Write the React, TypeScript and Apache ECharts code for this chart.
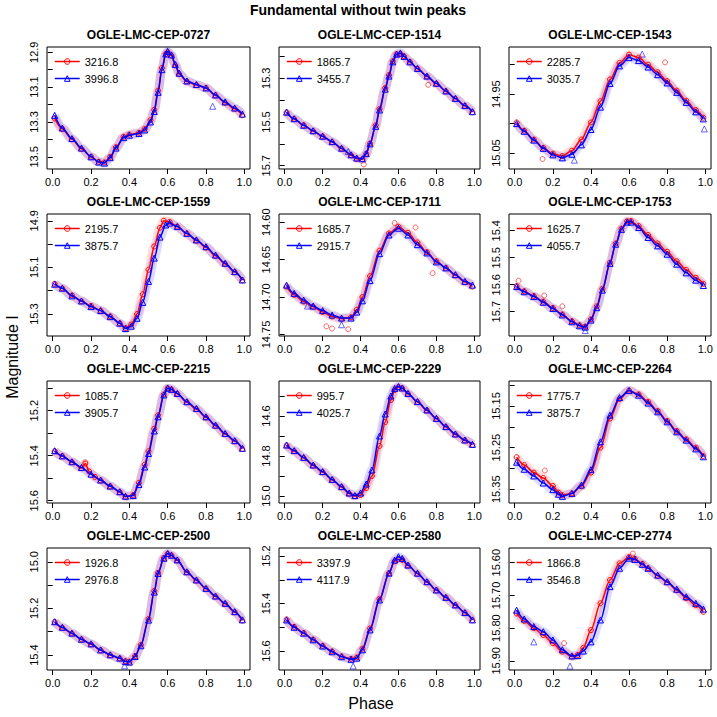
import React, { useEffect, useRef } from 'react';
import * as echarts from 'echarts';

const FONT = '"Liberation Sans", Arial, Helvetica, sans-serif';

const mainTitle = 'Fundamental without twin peaks';
const xTitle = 'Phase';
const yTitle = 'Magnitude I';

const panelTitles = [
  'OGLE-LMC-CEP-0727', 'OGLE-LMC-CEP-1514', 'OGLE-LMC-CEP-1543',
  'OGLE-LMC-CEP-1559', 'OGLE-LMC-CEP-1711', 'OGLE-LMC-CEP-1753',
  'OGLE-LMC-CEP-2215', 'OGLE-LMC-CEP-2229', 'OGLE-LMC-CEP-2264',
  'OGLE-LMC-CEP-2500', 'OGLE-LMC-CEP-2580', 'OGLE-LMC-CEP-2774',
];
const redNames = ['3216.8', '1865.7', '2285.7', '2195.7', '1685.7', '1625.7', '1085.7', '995.7', '1775.7', '1926.8', '3397.9', '1866.8'];
const blueNames = ['3996.8', '3455.7', '3035.7', '3875.7', '2915.7', '4055.7', '3905.7', '4025.7', '3875.7', '2976.8', '4117.9', '3546.8'];

const xTicks = [0, 0.2, 0.4, 0.6, 0.8, 1.0];

const yRanges = [
  [12.87, 13.57], [15.157, 15.715], [14.87, 15.077],
  [14.871, 15.394], [14.589, 14.752], [15.338, 15.79],
  [15.068, 15.61], [14.425, 15.035], [15.09, 15.383],
  [14.941, 15.464], [15.166, 15.68], [15.555, 15.928],
];
const yTicks = [
  [12.9, 13.0, 13.1, 13.2, 13.3, 13.4, 13.5],
  [15.2, 15.3, 15.4, 15.5, 15.6, 15.7],
  [14.9, 14.95, 15.0, 15.05],
  [14.9, 15.0, 15.1, 15.2, 15.3],
  [14.6, 14.65, 14.7, 14.75],
  [15.4, 15.5, 15.6, 15.7],
  [15.1, 15.2, 15.3, 15.4, 15.5, 15.6],
  [14.5, 14.6, 14.7, 14.8, 14.9, 15.0],
  [15.1, 15.15, 15.2, 15.25, 15.3, 15.35],
  [15.0, 15.1, 15.2, 15.3, 15.4],
  [15.2, 15.3, 15.4, 15.5, 15.6],
  [15.6, 15.7, 15.8, 15.9],
];
const yLabels = [
  [12.9, 13.1, 13.3, 13.5],
  [15.3, 15.5, 15.7],
  [14.95, 15.05],
  [14.9, 15.1, 15.3],
  [14.6, 14.65, 14.7, 14.75],
  [15.4, 15.5, 15.6, 15.7],
  [15.2, 15.4, 15.6],
  [14.6, 14.8, 15.0],
  [15.15, 15.25, 15.35],
  [15.0, 15.2, 15.4],
  [15.2, 15.4, 15.6],
  [15.6, 15.7, 15.8, 15.9],
];
const yDecimals = [1, 1, 2, 1, 2, 1, 1, 1, 2, 1, 1, 2];

// ---- light curves: [phase, magnitude] ----
const red0727 = [[0.01,13.28],[0.05,13.34],[0.1,13.4],[0.15,13.455],[0.2,13.5],[0.24,13.528],[0.27,13.532],[0.3,13.5],[0.33,13.445],[0.37,13.385],[0.4,13.372],[0.45,13.362],[0.48,13.34],[0.51,13.29],[0.53,13.23],[0.55,13.12],[0.57,12.99],[0.59,12.91],[0.6,12.9],[0.62,12.92],[0.64,12.975],[0.66,13.025],[0.7,13.068],[0.75,13.088],[0.8,13.105],[0.85,13.148],[0.9,13.19],[0.95,13.225],[0.99,13.262]];
const blue0727 = [[0.01,13.262],[0.05,13.335],[0.1,13.395],[0.15,13.45],[0.2,13.5],[0.24,13.53],[0.27,13.536],[0.3,13.505],[0.33,13.45],[0.37,13.39],[0.4,13.376],[0.45,13.366],[0.48,13.346],[0.51,13.3],[0.53,13.24],[0.55,13.13],[0.57,13.0],[0.59,12.91],[0.6,12.895],[0.62,12.915],[0.64,12.97],[0.66,13.02],[0.7,13.065],[0.75,13.085],[0.8,13.105],[0.85,13.145],[0.9,13.185],[0.95,13.22],[0.99,13.255]];

const red1514 = [[0.01,15.456],[0.05,15.486],[0.1,15.515],[0.15,15.542],[0.2,15.566],[0.25,15.592],[0.3,15.622],[0.35,15.652],[0.38,15.668],[0.41,15.67],[0.43,15.645],[0.45,15.598],[0.48,15.515],[0.5,15.44],[0.53,15.345],[0.55,15.285],[0.57,15.222],[0.59,15.19],[0.61,15.188],[0.63,15.2],[0.66,15.225],[0.7,15.256],[0.75,15.292],[0.8,15.325],[0.85,15.36],[0.9,15.394],[0.95,15.426],[0.99,15.455]];
const blue1514 = [[0.01,15.455],[0.05,15.485],[0.1,15.515],[0.15,15.54],[0.2,15.565],[0.25,15.59],[0.3,15.62],[0.35,15.65],[0.38,15.665],[0.41,15.668],[0.43,15.645],[0.45,15.6],[0.48,15.52],[0.5,15.445],[0.53,15.35],[0.55,15.29],[0.57,15.225],[0.59,15.19],[0.61,15.185],[0.63,15.2],[0.66,15.225],[0.7,15.255],[0.75,15.29],[0.8,15.323],[0.85,15.358],[0.9,15.392],[0.95,15.425],[0.99,15.453]];

const red1543 = [[0.01,14.998],[0.05,15.012],[0.1,15.027],[0.15,15.041],[0.2,15.051],[0.25,15.055],[0.3,15.046],[0.35,15.027],[0.4,14.998],[0.45,14.962],[0.5,14.925],[0.55,14.897],[0.6,14.883],[0.65,14.888],[0.7,14.9],[0.75,14.913],[0.8,14.928],[0.85,14.944],[0.9,14.961],[0.95,14.977],[0.99,14.99]];
const blue1543 = [[0.01,15.0],[0.05,15.013],[0.1,15.028],[0.15,15.042],[0.2,15.053],[0.25,15.058],[0.3,15.052],[0.35,15.036],[0.4,15.01],[0.45,14.972],[0.5,14.932],[0.55,14.902],[0.6,14.888],[0.65,14.893],[0.7,14.904],[0.75,14.917],[0.8,14.931],[0.85,14.947],[0.9,14.964],[0.95,14.98],[0.99,14.992]];

const red1559 = [[0.01,15.17],[0.05,15.19],[0.1,15.22],[0.15,15.245],[0.2,15.265],[0.25,15.285],[0.3,15.31],[0.35,15.34],[0.38,15.36],[0.41,15.345],[0.44,15.3],[0.47,15.215],[0.5,15.11],[0.53,15.01],[0.56,14.93],[0.58,14.9],[0.61,14.905],[0.65,14.925],[0.7,14.955],[0.75,14.985],[0.8,15.015],[0.85,15.05],[0.9,15.085],[0.95,15.12],[0.99,15.155]];
const blue1559 = [[0.01,15.172],[0.05,15.189],[0.1,15.222],[0.15,15.244],[0.2,15.268],[0.25,15.285],[0.3,15.311],[0.35,15.339],[0.38,15.362],[0.41,15.352],[0.44,15.318],[0.47,15.25],[0.5,15.16],[0.53,15.06],[0.56,14.97],[0.59,14.918],[0.61,14.91],[0.65,14.925],[0.7,14.954],[0.75,14.982],[0.8,15.011],[0.85,15.047],[0.9,15.082],[0.95,15.118],[0.99,15.154]];

const red1711 = [[0.01,14.686],[0.05,14.697],[0.1,14.706],[0.15,14.713],[0.2,14.72],[0.25,14.726],[0.3,14.729],[0.35,14.727],[0.38,14.717],[0.41,14.7],[0.45,14.672],[0.5,14.638],[0.55,14.615],[0.6,14.606],[0.65,14.614],[0.7,14.627],[0.75,14.64],[0.8,14.652],[0.85,14.661],[0.9,14.671],[0.95,14.68],[0.99,14.686]];
const blue1711 = [[0.01,14.684],[0.05,14.695],[0.1,14.704],[0.15,14.712],[0.2,14.718],[0.25,14.724],[0.3,14.728],[0.35,14.728],[0.38,14.72],[0.41,14.705],[0.45,14.678],[0.5,14.642],[0.55,14.617],[0.6,14.608],[0.65,14.617],[0.7,14.63],[0.75,14.641],[0.8,14.653],[0.85,14.661],[0.9,14.67],[0.95,14.679],[0.99,14.684]];

const red1753 = [[0.01,15.605],[0.05,15.624],[0.1,15.642],[0.15,15.663],[0.2,15.686],[0.25,15.71],[0.3,15.735],[0.34,15.75],[0.37,15.755],[0.4,15.728],[0.43,15.68],[0.46,15.615],[0.5,15.518],[0.53,15.447],[0.56,15.392],[0.59,15.365],[0.61,15.364],[0.65,15.382],[0.7,15.416],[0.75,15.447],[0.8,15.478],[0.85,15.513],[0.9,15.545],[0.95,15.574],[0.99,15.597]];
const blue1753 = [[0.01,15.607],[0.05,15.626],[0.1,15.644],[0.15,15.665],[0.2,15.688],[0.25,15.712],[0.3,15.737],[0.34,15.752],[0.37,15.757],[0.4,15.731],[0.43,15.685],[0.46,15.62],[0.5,15.521],[0.53,15.45],[0.56,15.395],[0.59,15.368],[0.61,15.368],[0.65,15.388],[0.7,15.425],[0.75,15.456],[0.8,15.487],[0.85,15.524],[0.9,15.556],[0.95,15.583],[0.99,15.603]];

const red2215 = [[0.01,15.38],[0.05,15.402],[0.1,15.428],[0.15,15.455],[0.17,15.435],[0.19,15.47],[0.22,15.494],[0.25,15.51],[0.3,15.536],[0.35,15.562],[0.38,15.582],[0.42,15.575],[0.45,15.52],[0.48,15.44],[0.5,15.38],[0.53,15.28],[0.55,15.22],[0.58,15.128],[0.6,15.1],[0.62,15.106],[0.65,15.125],[0.7,15.162],[0.75,15.193],[0.8,15.23],[0.85,15.267],[0.9,15.304],[0.95,15.336],[0.99,15.37]];
const blue2215 = [[0.01,15.378],[0.05,15.401],[0.1,15.427],[0.15,15.452],[0.2,15.482],[0.25,15.508],[0.3,15.535],[0.35,15.56],[0.38,15.58],[0.42,15.577],[0.45,15.528],[0.48,15.45],[0.5,15.39],[0.53,15.29],[0.55,15.227],[0.58,15.13],[0.6,15.1],[0.62,15.105],[0.65,15.123],[0.7,15.16],[0.75,15.19],[0.8,15.227],[0.85,15.264],[0.9,15.301],[0.95,15.333],[0.99,15.367]];

const red2229 = [[0.01,14.747],[0.05,14.776],[0.1,14.81],[0.15,14.848],[0.2,14.881],[0.25,14.92],[0.3,14.956],[0.34,14.988],[0.37,15.0],[0.4,14.995],[0.43,14.96],[0.46,14.9],[0.5,14.75],[0.53,14.63],[0.56,14.52],[0.58,14.47],[0.6,14.455],[0.62,14.462],[0.65,14.489],[0.7,14.53],[0.75,14.572],[0.8,14.614],[0.85,14.655],[0.9,14.692],[0.95,14.722],[0.99,14.744]];
const blue2229 = [[0.01,14.745],[0.05,14.773],[0.1,14.807],[0.15,14.845],[0.2,14.878],[0.25,14.917],[0.3,14.953],[0.34,14.985],[0.37,14.998],[0.4,14.985],[0.43,14.94],[0.46,14.87],[0.5,14.7],[0.53,14.59],[0.56,14.5],[0.58,14.462],[0.6,14.453],[0.62,14.46],[0.65,14.487],[0.7,14.528],[0.75,14.57],[0.8,14.612],[0.85,14.653],[0.9,14.69],[0.95,14.72],[0.99,14.742]];

const red2264 = [[0.01,15.273],[0.05,15.292],[0.1,15.31],[0.15,15.323],[0.2,15.342],[0.23,15.358],[0.25,15.364],[0.3,15.36],[0.35,15.343],[0.4,15.31],[0.45,15.25],[0.5,15.18],[0.55,15.133],[0.6,15.113],[0.65,15.122],[0.7,15.14],[0.75,15.162],[0.8,15.186],[0.85,15.21],[0.9,15.23],[0.95,15.25],[0.99,15.27]];
const blue2264 = [[0.01,15.285],[0.05,15.302],[0.1,15.318],[0.15,15.335],[0.2,15.351],[0.23,15.362],[0.25,15.367],[0.3,15.36],[0.35,15.34],[0.4,15.303],[0.45,15.236],[0.5,15.172],[0.55,15.13],[0.6,15.113],[0.65,15.124],[0.7,15.143],[0.75,15.164],[0.8,15.188],[0.85,15.212],[0.9,15.232],[0.95,15.253],[0.99,15.272]];

const red2500 = [[0.01,15.258],[0.05,15.283],[0.1,15.308],[0.15,15.333],[0.2,15.354],[0.25,15.379],[0.3,15.4],[0.35,15.415],[0.38,15.426],[0.4,15.428],[0.43,15.404],[0.46,15.356],[0.5,15.245],[0.53,15.125],[0.55,15.047],[0.58,14.984],[0.6,14.966],[0.62,14.973],[0.65,14.994],[0.7,15.045],[0.75,15.08],[0.8,15.116],[0.85,15.149],[0.9,15.18],[0.95,15.216],[0.99,15.252]];
const blue2500 = [[0.01,15.257],[0.05,15.281],[0.1,15.306],[0.15,15.332],[0.2,15.352],[0.25,15.378],[0.3,15.399],[0.35,15.413],[0.38,15.428],[0.4,15.43],[0.43,15.406],[0.46,15.36],[0.5,15.25],[0.53,15.13],[0.55,15.05],[0.58,14.985],[0.6,14.965],[0.62,14.972],[0.65,14.992],[0.7,15.043],[0.75,15.078],[0.8,15.114],[0.85,15.147],[0.9,15.178],[0.95,15.214],[0.99,15.249]];

const red2580 = [[0.01,15.467],[0.05,15.498],[0.1,15.524],[0.15,15.552],[0.2,15.578],[0.25,15.602],[0.3,15.623],[0.35,15.633],[0.38,15.627],[0.41,15.59],[0.45,15.505],[0.5,15.38],[0.55,15.272],[0.58,15.222],[0.6,15.213],[0.62,15.216],[0.65,15.24],[0.7,15.274],[0.75,15.31],[0.8,15.344],[0.85,15.375],[0.9,15.407],[0.95,15.439],[0.99,15.47]];
const blue2580 = [[0.01,15.469],[0.05,15.5],[0.1,15.525],[0.15,15.553],[0.2,15.579],[0.25,15.603],[0.3,15.624],[0.35,15.635],[0.38,15.63],[0.41,15.595],[0.45,15.511],[0.5,15.385],[0.55,15.272],[0.58,15.217],[0.6,15.203],[0.62,15.21],[0.65,15.238],[0.7,15.272],[0.75,15.308],[0.8,15.343],[0.85,15.374],[0.9,15.406],[0.95,15.438],[0.99,15.469]];

const red2774 = [[0.01,15.755],[0.05,15.778],[0.1,15.8],[0.15,15.821],[0.2,15.846],[0.25,15.872],[0.3,15.887],[0.33,15.882],[0.36,15.86],[0.4,15.806],[0.45,15.724],[0.5,15.653],[0.55,15.602],[0.6,15.583],[0.63,15.588],[0.67,15.603],[0.7,15.617],[0.75,15.64],[0.8,15.66],[0.85,15.684],[0.9,15.708],[0.95,15.73],[0.99,15.75]];
const blue2774 = [[0.01,15.745],[0.05,15.772],[0.1,15.795],[0.15,15.811],[0.2,15.836],[0.25,15.866],[0.3,15.885],[0.33,15.884],[0.36,15.87],[0.4,15.842],[0.45,15.775],[0.5,15.673],[0.55,15.617],[0.6,15.586],[0.63,15.59],[0.67,15.605],[0.7,15.617],[0.75,15.638],[0.8,15.658],[0.85,15.681],[0.9,15.704],[0.95,15.724],[0.99,15.742]];

const redCurves = [red0727, red1514, red1543, red1559, red1711, red1753, red2215, red2229, red2264, red2500, red2580, red2774];
const blueCurves = [blue0727, blue1514, blue1543, blue1559, blue1711, blue1753, blue2215, blue2229, blue2264, blue2500, blue2580, blue2774];

// ---- individual stray observations (off the mean curve) ----
const redStray = [
  [],
  [[0.417, 15.694], [0.757, 15.33]],
  [[0.789, 14.896], [0.146, 15.06]],
  [],
  [[0.22, 14.739], [0.25, 14.742], [0.335, 14.743], [0.58, 14.601], [0.69, 14.607], [0.78, 14.668]],
  [[0.02, 15.585], [0.155, 15.64], [0.25, 15.68]],
  [[0.17, 15.43]],
  [],
  [[0.158, 15.305]],
  [],
  [],
  [[0.259, 15.846], [0.62, 15.572]],
];
const blueStray = [
  [[0.835, 13.21]],
  [[0.335, 15.635]],
  [[0.669, 14.882], [0.995, 15.009], [0.313, 15.062]],
  [],
  [[0.12, 14.712], [0.3, 14.737]],
  [[0.37, 15.77]],
  [],
  [],
  [],
  [[0.375, 15.446]],
  [[0.361, 15.663]],
  [[0.29, 15.916], [0.1, 15.842]],
];

// ---- layout ----
const COL_LEFT = [47, 279, 509];
const COL_WIDTH = [203, 201, 202];
const ROW_TOP = [47, 214, 381, 548];
const BOX_H = 122;

const RED = '#ff0000';
const BLUE = '#0000ff';
const CLEAR = 'rgba(255,255,255,0)';

function centeredText(text: string, x: number, y: number, size: number, bold: boolean, rotation = 0) {
  return {
    type: 'text', x, y, rotation,
    style: {
      text, fontSize: size, fontWeight: bold ? 'bold' : 'normal', fontFamily: FONT, fill: '#000',
      align: 'center', verticalAlign: 'middle', textAlign: 'center', textVerticalAlign: 'middle',
    },
  };
}

function buildOption() {
  const grid: any[] = [];
  const xAxis: any[] = [];
  const yAxis: any[] = [];
  const series: any[] = [];
  const legend: any[] = [];
  const graphic: any[] = [];

  graphic.push(centeredText(mainTitle, 358, 10, 14, true));
  graphic.push(centeredText(xTitle, 371, 703, 16, false));
  graphic.push(centeredText(yTitle, 12, 357, 16, false, Math.PI / 2));

  for (let i = 0; i < 12; i++) {
    const c = i % 3;
    const r = Math.floor(i / 3);
    const left = COL_LEFT[c];
    const top = ROW_TOP[r];
    const w = COL_WIDTH[c];
    grid.push({ left, top, width: w, height: BOX_H, show: true, borderColor: '#000', borderWidth: 1, backgroundColor: 'transparent', containLabel: false });

    graphic.push(centeredText(panelTitles[i], left + w / 2, top - 12, 12, true));

    xAxis.push({
      type: 'value', gridIndex: i, min: -0.03, max: 1.03,
      axisLine: { show: false },
      axisTick: { show: true, inside: false, length: 5, lineStyle: { color: '#000', width: 1 }, customValues: xTicks },
      axisLabel: { show: true, customValues: xTicks, formatter: (v: number) => v.toFixed(1), fontSize: 11, fontFamily: FONT, color: '#000', margin: 7 },
      splitLine: { show: false },
    });
    const dec = yDecimals[i];
    yAxis.push({
      type: 'value', gridIndex: i, inverse: true, min: yRanges[i][0], max: yRanges[i][1],
      axisLine: { show: false },
      axisTick: { show: true, inside: false, length: 5, lineStyle: { color: '#000', width: 1 }, customValues: yTicks[i] },
      axisLabel: { show: true, rotate: 90, customValues: yLabels[i], formatter: (v: number) => v.toFixed(dec), fontSize: 11, fontFamily: FONT, color: '#000', margin: 8 },
      splitLine: { show: false },
    });

    const bandCommon = { type: 'line', xAxisIndex: i, yAxisIndex: i, smooth: 0.3, smoothMonotone: 'x', showSymbol: false, silent: true, z: 1 };
    series.push({ ...bandCommon, name: 'band-r-' + i, data: redCurves[i], lineStyle: { width: 9, color: 'rgba(255,0,0,0.14)' } });
    series.push({ ...bandCommon, name: 'band-b-' + i, data: blueCurves[i], lineStyle: { width: 9, color: 'rgba(0,0,255,0.14)' } });

    series.push({
      type: 'scatter', name: 'stray-r-' + i, xAxisIndex: i, yAxisIndex: i, data: redStray[i],
      symbol: 'circle', symbolSize: 5, silent: true, z: 2,
      itemStyle: { color: CLEAR, borderColor: 'rgba(255,0,0,0.75)', borderWidth: 1 },
    });
    series.push({
      type: 'scatter', name: 'stray-b-' + i, xAxisIndex: i, yAxisIndex: i, data: blueStray[i],
      symbol: 'triangle', symbolSize: 6, silent: true, z: 2,
      itemStyle: { color: CLEAR, borderColor: 'rgba(0,0,255,0.75)', borderWidth: 1 },
    });

    series.push({
      type: 'line', name: redNames[i], xAxisIndex: i, yAxisIndex: i, data: redCurves[i],
      smooth: 0.3, smoothMonotone: 'x', symbol: 'circle', symbolSize: 5, showAllSymbol: true, z: 3,
      lineStyle: { width: 1.5, color: RED },
      itemStyle: { color: CLEAR, borderColor: RED, borderWidth: 1 },
    });
    series.push({
      type: 'line', name: blueNames[i], xAxisIndex: i, yAxisIndex: i, data: blueCurves[i],
      smooth: 0.3, smoothMonotone: 'x', symbol: 'triangle', symbolSize: 6, showAllSymbol: true, z: 4,
      lineStyle: { width: 1.5, color: BLUE },
      itemStyle: { color: CLEAR, borderColor: BLUE, borderWidth: 1 },
    });

    legend.push({
      orient: 'vertical', left: left + 7, top: top + 9,
      data: [
        { name: redNames[i], itemStyle: { color: CLEAR, borderColor: RED, borderWidth: 1 }, lineStyle: { color: RED, width: 1.5 } },
        { name: blueNames[i], itemStyle: { color: CLEAR, borderColor: BLUE, borderWidth: 1 }, lineStyle: { color: BLUE, width: 1.5 } },
      ],
      itemWidth: 25, itemHeight: 7, itemGap: 6, selectedMode: false,
      textStyle: { fontSize: 11, fontFamily: FONT, color: '#000' },
      padding: 0,
    });
  }

  return {
    animation: false,
    backgroundColor: '#ffffff',
    textStyle: { fontFamily: FONT },
    grid, xAxis, yAxis, series, legend, graphic,
  };
}

export default function App() {
  const ref = useRef<HTMLDivElement>(null);
  useEffect(() => {
    if (!ref.current) return;
    const chart = echarts.init(ref.current, undefined, { renderer: 'svg' });
    chart.setOption(buildOption() as any);
    return () => chart.dispose();
  }, []);
  return <div ref={ref} style={{ position: 'fixed', left: 0, top: 0, width: 717, height: 717, background: '#fff' }} />;
}
